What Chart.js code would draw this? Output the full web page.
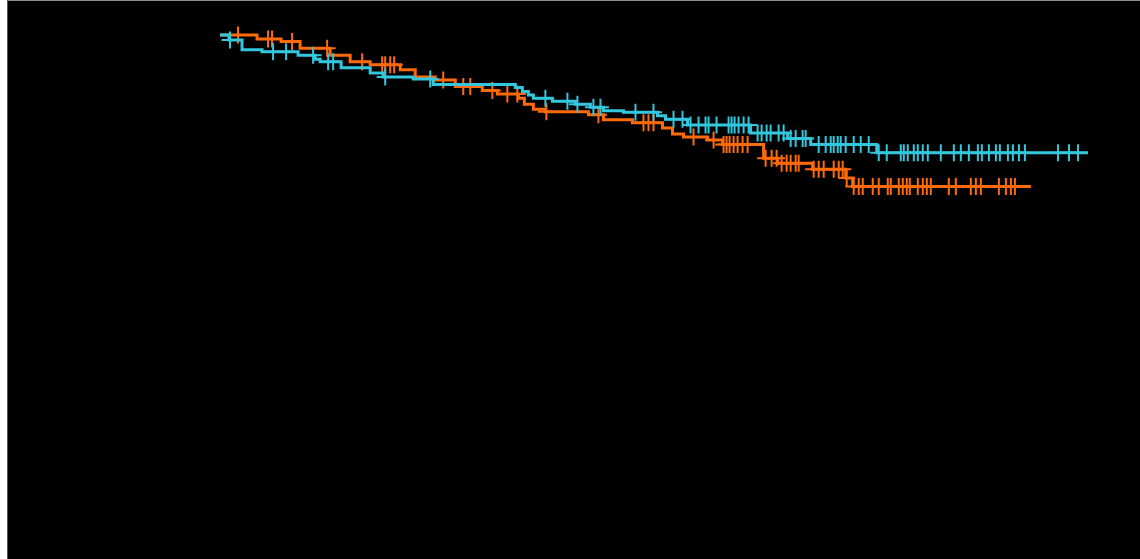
<!DOCTYPE html>
<html>
<head>
<meta charset="utf-8">
<script src="https://cdn.jsdelivr.net/npm/chart.js@4.4.1/dist/chart.umd.min.js"></script>
<style>
  html, body { margin: 0; padding: 0; background: #ffffff; }
  #frame {
    position: absolute; left: 7px; top: 0;
    width: 1133px; height: 558px;
    background: #000000;
    border-top: 1px solid #8c8c8c;
    border-left: 1px solid #555555;
  }
  canvas { display: block; }
</style>
</head>
<body>
<div id="frame"><canvas id="kmChart" width="1133" height="558"></canvas></div>
<script>
// Kaplan-Meier style curves, time in months, survival as a fraction
const cyanTimes = [0, 0.9, 2.2, 4.2, 7.8, 9.5, 10.0, 12.1, 15.0, 16.3, 19.3, 21.3, 29.5, 30.2, 30.8, 31.3,
    33.2, 35.5, 37.0, 38.3, 40.3, 43.7, 44.5, 46.7, 53.0, 56.7, 59.0, 65.6, 86.7];
const cyanSurv = [1.0, 0.990, 0.971, 0.967, 0.960, 0.952, 0.947, 0.935, 0.925, 0.917, 0.913, 0.902, 0.896, 0.888, 0.881, 0.875,
    0.869, 0.863, 0.857, 0.850, 0.847, 0.840, 0.833, 0.822, 0.806, 0.795, 0.783, 0.767, 0.767];
const cyanCensor = [1.0, 5.3, 6.6, 9.3, 10.8, 11.3, 16.5, 21.0, 32.5, 34.7, 35.7, 37.3, 38.0, 41.5, 43.3, 45.3,
    46.2, 47.0, 47.8, 48.5, 48.8, 49.6, 50.8, 51.1, 51.4, 51.8, 52.3, 52.8, 53.7, 54.1, 54.6, 55.0, 55.8,
    56.3, 57.0, 57.5, 58.2, 58.5, 59.8, 60.5, 61.0, 61.3, 61.7, 62.0, 62.5, 63.3, 64.0, 64.8, 65.8, 66.6,
    68.0, 68.3, 68.7, 69.3, 69.7, 70.2, 70.7, 72.0, 73.3, 74.0, 74.8, 75.7, 76.1, 76.8, 77.5, 77.9, 78.7,
    79.2, 79.8, 80.4, 83.7, 84.8, 85.7];

const orangeTimes = [0, 3.7, 6.1, 8.0, 11.0, 13.0, 15.0, 18.0, 19.5, 21.5, 23.5, 26.2, 27.7, 29.8, 30.4, 31.3,
    32.5, 36.8, 38.3, 41.2, 44.2, 45.2, 46.3, 48.7, 50.2, 54.3, 55.7, 59.2, 62.5, 63.2, 81.0];
const orangeSurv = [1.0, 0.992, 0.987, 0.974, 0.960, 0.947, 0.941, 0.931, 0.917, 0.911, 0.898, 0.890, 0.883, 0.875, 0.863, 0.853,
    0.848, 0.842, 0.832, 0.826, 0.816, 0.804, 0.798, 0.792, 0.783, 0.756, 0.746, 0.734, 0.717, 0.700, 0.700];
const orangeCensor = [1.8, 4.8, 5.2, 7.2, 10.7, 14.2, 16.2, 16.5, 17.0, 17.4, 22.3, 24.3, 25.0, 27.2, 28.7, 29.7,
    32.6, 37.8, 42.3, 42.8, 43.3, 47.3, 49.3, 50.3, 50.6, 50.9, 51.3, 51.7, 52.2, 52.7, 54.5, 55.1, 55.6,
    56.1, 56.6, 57.0, 57.5, 57.8, 59.3, 59.8, 60.3, 61.3, 61.8, 62.2, 62.6, 63.3, 63.8, 64.2, 65.2, 65.8,
    66.7, 67.0, 67.8, 68.2, 68.6, 68.9, 69.7, 70.2, 70.6, 71.0, 72.8, 73.5, 75.0, 75.5, 76.0, 77.8, 78.5,
    79.0, 79.4];

const xMax = 88;
const cyanColor = '#33c7dd';
const orangeColor = '#ff6a0a';

// survival level of a step curve at time t
function survAt(times, surv, t) {
    let s = surv[0];
    for (let i = 0; i < times.length; i++) {
        if (times[i] <= t) s = surv[i];
    }
    return s;
}

function stepPoints(times, surv) {
    return times.map((t, i) => ({ x: t, y: surv[i] }));
}

function censorPoints(censor, times, surv) {
    return censor.map(t => ({ x: t, y: survAt(times, surv, t) }));
}

function curveDataset(times, surv, color) {
    return {
        type: 'line',
        data: stepPoints(times, surv),
        borderColor: color,
        borderWidth: 3,
        stepped: true,
        pointRadius: 0,
        fill: false,
        clip: false
    };
}

function censorDataset(censor, times, surv, color) {
    return {
        type: 'scatter',
        data: censorPoints(censor, times, surv),
        pointStyle: 'cross',
        pointRadius: 8.5,
        borderColor: color,
        pointBorderWidth: 2,
        showLine: false,
        clip: false
    };
}

document.addEventListener('DOMContentLoaded', function() {
    const ctx = document.getElementById('kmChart').getContext('2d');
    new Chart(ctx, {
        data: {
            datasets: [
                censorDataset(cyanCensor, cyanTimes, cyanSurv, cyanColor),
                curveDataset(cyanTimes, cyanSurv, cyanColor),
                censorDataset(orangeCensor, orangeTimes, orangeSurv, orangeColor),
                curveDataset(orangeTimes, orangeSurv, orangeColor)
            ]
        },
        options: {
            responsive: false,
            animation: false,
            devicePixelRatio: 1,
            layout: {
                padding: { left: 212, right: 40, top: 34, bottom: 19 }
            },
            scales: {
                x: { type: 'linear', min: 0, max: xMax, display: false },
                y: { type: 'linear', min: 0, max: 1, display: false }
            },
            plugins: {
                legend: { display: false },
                tooltip: { enabled: false }
            }
        }
    });
});
</script>
</body>
</html>
